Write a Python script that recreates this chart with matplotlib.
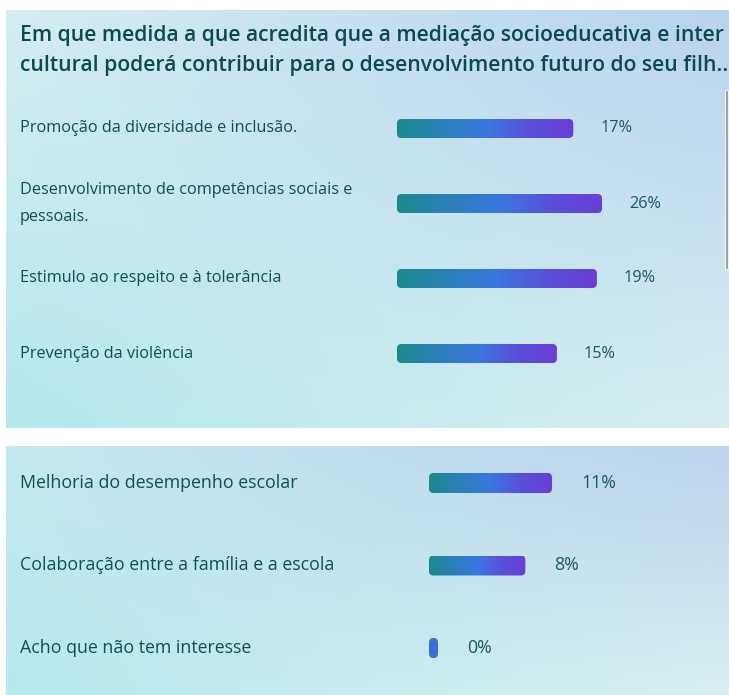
import numpy as np
import matplotlib.pyplot as plt
from matplotlib.patches import FancyBboxPatch
from matplotlib.colors import LinearSegmentedColormap, to_rgb

plt.rcParams['font.family'] = ['Open Sans', 'DejaVu Sans']

title_lines = ["Em que medida a que acredita que a mediação socioeducativa e inter",
               "cultural poderá contribuir para o desenvolvimento futuro do seu filh.."]

top_labels = ["Promoção da diversidade e inclusão.",
              "Desenvolvimento de competências sociais e\npessoais.",
              "Estimulo ao respeito e à tolerância",
              "Prevenção da violência"]
top_pct = [17, 26, 19, 15]
top_bar = [86, 100, 97.5, 78]      # bar length as drawn (longest = 100)

bottom_labels = ["Melhoria do desempenho escolar",
                 "Colaboração entre a família e a escola",
                 "Acho que não tem interesse"]
bottom_pct = [11, 8, 0]
bottom_bar = [60, 47, 0]

W, H = 729, 695
fig = plt.figure(figsize=(W / 100, H / 100), dpi=100)
fig.patch.set_facecolor('white')

bg = fig.add_axes([0, 0, 1, 1])
bg.set_xlim(0, W)
bg.set_ylim(H, 0)
bg.axis('off')


def panel(x0, y0, x1, y1, tl, tr, bl, br):
    u = np.linspace(0, 1, 60)
    X, Y = np.meshgrid(u, u)
    tl, tr, bl, br = [np.array(to_rgb(c)) for c in (tl, tr, bl, br)]
    img = ((1 - X) * (1 - Y))[..., None] * tl + (X * (1 - Y))[..., None] * tr \
        + ((1 - X) * Y)[..., None] * bl + (X * Y)[..., None] * br
    bg.imshow(img, extent=(x0, x1, y1, y0), aspect='auto', interpolation='bilinear')


panel(6, 10, W, 428, '#d4edf2', '#b9d3ee', '#b4e9ec', '#d7eef1')
panel(6, 446, W, H, '#c4eaef', '#bcd3ec', '#b6eaed', '#d9eff2')
bg.set_xlim(0, W)
bg.set_ylim(H, 0)

# scrollbar strip at the right edge
bg.fill_between([725.5, W], 90, 270, color='#f4f6f8', lw=0)
bg.plot([727.5, 727.5], [92, 268], color='#9aa3ab', lw=1.5)

for k, line in enumerate(title_lines):
    bg.text(20, 35 + k * 30, line, fontsize=15.2, color='#0b4b4d', weight='semibold',
            va='center', ha='left')

cmap = LinearSegmentedColormap.from_list('bar', ['#1a8a8b', '#2a80b8', '#3a77df', '#5a4fd9', '#6a3ed6'])
grad = np.linspace(0, 1, 256).reshape(1, -1)


def bar_panel(left, top, width, height, labels, pct, bars, fs, bar_px, gap_px):
    ax = fig.add_axes([left / W, 1 - (top + height) / H, width / W, height / H])
    ax.patch.set_alpha(0)
    n = len(labels)
    xpp = 100 / width
    ypp = n / height
    bh = bar_px * ypp
    for i, (lab, p, b) in enumerate(zip(labels, pct, bars)):
        bw = max(b, 9 * xpp)
        r = min(4.5, bw / xpp / 2)
        patch = FancyBboxPatch((0, i - bh / 2), bw, bh,
                               boxstyle=f"round,pad=0,rounding_size={r * xpp}",
                               mutation_aspect=ypp / xpp, fc='none', ec='none')
        ax.add_patch(patch)
        if b > 0:
            im = ax.imshow(grad, cmap=cmap, extent=(0, bw, i + bh / 2, i - bh / 2),
                           aspect='auto', interpolation='bilinear')
        else:
            im = ax.imshow(np.array([[to_rgb('#3a6fd8')]]), extent=(0, bw, i + bh / 2, i - bh / 2),
                           aspect='auto')
        im.set_clip_path(patch)
        ax.annotate(f"{p}%", xy=(bw, i), xytext=(gap_px * 0.72, 0), textcoords='offset points',
                    va='center', ha='left', fontsize=fs, color='#1c585b')
        ax.annotate(lab, xy=(20, i), xycoords=('figure pixels', 'data'), va='center', ha='left',
                    fontsize=fs, color='#0f4f4f', linespacing=1.95, annotation_clip=False)
    ax.set_xlim(0, 100)
    ax.set_ylim(n - 0.5, -0.5)
    ax.axis('off')


bar_panel(397, 91, 205, 300, top_labels, top_pct, top_bar, 11.7, 19, 27)
bar_panel(429, 441.75, 205, 247.5, bottom_labels, bottom_pct, bottom_bar, 12.8, 20, 29)

plt.savefig("out.png", dpi=100)
